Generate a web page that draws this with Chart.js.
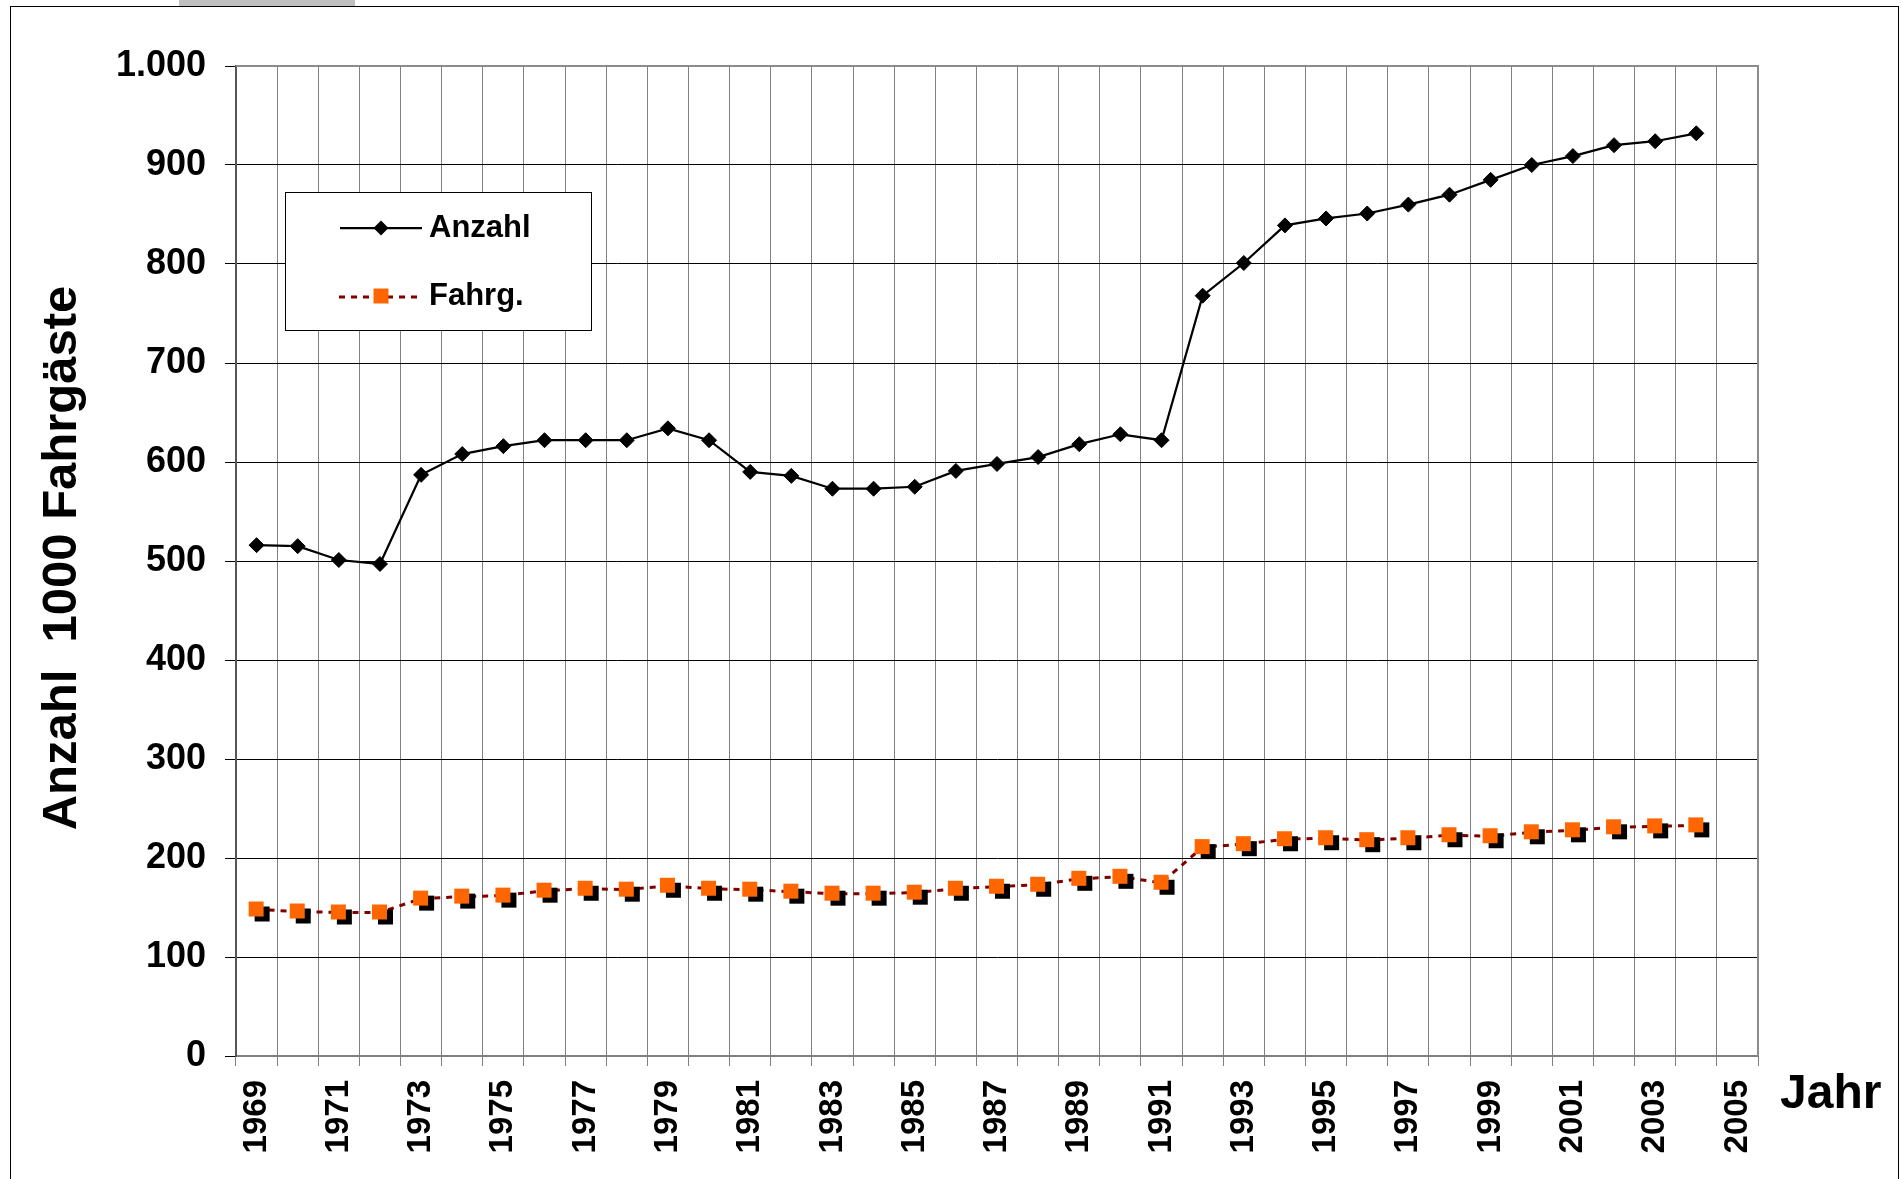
<!DOCTYPE html>
<html>
<head>
<meta charset="utf-8">
<script src="https://cdn.jsdelivr.net/npm/chart.js@4/dist/chart.umd.min.js"></script>
<style>
html,body{margin:0;padding:0;background:#fff;overflow:hidden}
canvas{display:block}
</style>
</head>
<body>
<canvas id="c" width="1901" height="1179"></canvas>
<script>
// ---- data ----
const years = ['1969','1970','1971','1972','1973','1974','1975','1976','1977','1978','1979','1980','1981','1982','1983','1984','1985','1986','1987','1988','1989','1990','1991','1992','1993','1994','1995','1996','1997','1998','1999','2000','2001','2002','2003','2004','2005'];
const anzahl = [516,515,501,497,587,608,616,622,622,622,634,622,590,586,573,573,575,591,598,605,618,628,622,768,801,839,846,851,860,870,885,900,909,920,924,932];
const fahrg  = [148,146,145,145,159,161,162,167,169,168,172,169,168,166,164,164,165,169,171,173,179,181,175,211,214,219,220,218,220,223,222,226,228,231,232,233];
const seriesNames = ['Anzahl','Fahrg.'];
const xTickLabels = ['1969','1971','1973','1975','1977','1979','1981','1983','1985','1987','1989','1991','1993','1995','1997','1999','2001','2003','2005'];
const yTickLabels = ['0','100','200','300','400','500','600','700','800','900','1.000'];
const yTitle = 'Anzahl  1000 Fahrgäste';
const xTitle = 'Jahr';

const FONT = '"Liberation Sans", Arial, sans-serif';

function makeShadowSquare() {
  const c = document.createElement('canvas');
  c.width = 28; c.height = 28;
  const g = c.getContext('2d');
  g.fillStyle = '#000';
  g.fillRect(12, 11, 15, 15);
  g.fillStyle = '#FF6600';
  g.fillRect(6, 6, 15, 15);
  return c;
}
const shadowSq = makeShadowSquare();

const framePlugin = {
  id: 'frame',
  beforeDraw(chart) {
    const ctx = chart.ctx;
    ctx.save();
    ctx.fillStyle = '#fff';
    ctx.fillRect(0, 0, chart.width, chart.height);
    ctx.fillStyle = '#c0c0c0';
    ctx.fillRect(179, 0, 176, 6);
    ctx.strokeStyle = '#000';
    ctx.lineWidth = 1;
    ctx.strokeRect(10.5, 6.5, 1888, 1300);
    ctx.restore();
  },
  afterDraw(chart) {
    const ctx = chart.ctx;
    const a = chart.chartArea;
    ctx.save();
    ctx.strokeStyle = '#8c8c8c';
    ctx.lineWidth = 2;
    ctx.beginPath();
    ctx.moveTo(a.left, a.top);
    ctx.lineTo(a.right, a.top);
    ctx.lineTo(a.right, a.bottom);
    ctx.stroke();

    ctx.fillStyle = '#000';
    ctx.font = 'bold 49px ' + FONT;
    ctx.textAlign = 'center';
    ctx.textBaseline = 'alphabetic';
    ctx.save();
    ctx.translate(76, 558);
    ctx.rotate(-Math.PI / 2);
    ctx.fillText(yTitle, 0, 0);
    ctx.restore();
    ctx.font = 'bold 48px ' + FONT;
    ctx.textAlign = 'left';
    ctx.fillText(xTitle, 1780, 1108);

    const ds = chart.data.datasets;
    ctx.fillStyle = '#fff';
    ctx.fillRect(285, 192, 306, 138);
    ctx.strokeStyle = '#000';
    ctx.lineWidth = 1;
    ctx.strokeRect(285.5, 192.5, 306, 138);

    ctx.strokeStyle = ds[0].borderColor;
    ctx.lineWidth = ds[0].borderWidth;
    ctx.setLineDash([]);
    ctx.beginPath();
    ctx.moveTo(340, 228); ctx.lineTo(422, 228);
    ctx.stroke();
    ctx.fillStyle = '#000';
    ctx.beginPath();
    ctx.moveTo(381, 220.5); ctx.lineTo(388.5, 228); ctx.lineTo(381, 235.5); ctx.lineTo(373.5, 228);
    ctx.closePath();
    ctx.fill();

    ctx.strokeStyle = ds[1].borderColor;
    ctx.lineWidth = ds[1].borderWidth;
    ctx.setLineDash(ds[1].borderDash);
    ctx.beginPath();
    ctx.moveTo(339, 297); ctx.lineTo(423, 297);
    ctx.stroke();
    ctx.setLineDash([]);
    ctx.fillStyle = '#FF6600';
    ctx.fillRect(373.5, 288.5, 15, 15);

    ctx.fillStyle = '#000';
    ctx.font = 'bold 31px ' + FONT;
    ctx.textAlign = 'left';
    ctx.textBaseline = 'middle';
    ctx.fillText(ds[0].label, 429, 228);
    ctx.fillText(ds[1].label, 429, 296);
    ctx.restore();
  }
};

new Chart(document.getElementById('c').getContext('2d'), {
  type: 'line',
  data: {
    labels: years,
    datasets: [
      {
        label: seriesNames[0],
        data: anzahl,
        borderColor: '#000',
        borderWidth: 2.25,
        pointStyle: 'rectRot',
        pointRadius: 7.5,
        pointHoverRadius: 7.5,
        pointBackgroundColor: '#000',
        pointBorderColor: '#000',
        pointBorderWidth: 1,
        tension: 0,
        fill: false
      },
      {
        label: seriesNames[1],
        data: fahrg,
        borderColor: '#800000',
        borderWidth: 3,
        borderDash: [6, 6],
        pointStyle: shadowSq,
        pointRadius: 10,
        tension: 0,
        fill: false
      }
    ]
  },
  options: {
    responsive: false,
    animation: false,
    devicePixelRatio: 1,
    layout: { padding: { left: 0, top: 66, right: 143, bottom: 0 } },
    plugins: { legend: { display: false }, tooltip: { enabled: false } },
    scales: {
      x: {
        type: 'category',
        offset: true,
        grid: { offset: true, color: '#808080', lineWidth: 1, drawTicks: true, tickLength: 10, tickColor: '#808080' },
        border: { color: '#808080', width: 2 },
        ticks: {
          autoSkip: false,
          maxRotation: 90,
          minRotation: 90,
          padding: 14,
          color: '#000',
          font: { family: FONT, size: 33, weight: 'bold' },
          callback: function (v) {
            const l = this.getLabelForValue(v);
            return xTickLabels.includes(l) ? l : '';
          }
        },
        afterFit: s => { s.height = 123; }
      },
      y: {
        min: 0,
        max: 1000,
        grid: { color: '#000', lineWidth: 1, drawTicks: true, tickLength: 11, tickColor: '#000' },
        border: { color: '#555', width: 2 },
        ticks: {
          stepSize: 100,
          padding: 19,
          color: '#000',
          font: { family: FONT, size: 36, weight: 'bold' },
          callback: (v, i) => yTickLabels[i]
        },
        afterFit: s => { s.width = 236; }
      }
    }
  },
  plugins: [framePlugin]
});
</script>
</body>
</html>
